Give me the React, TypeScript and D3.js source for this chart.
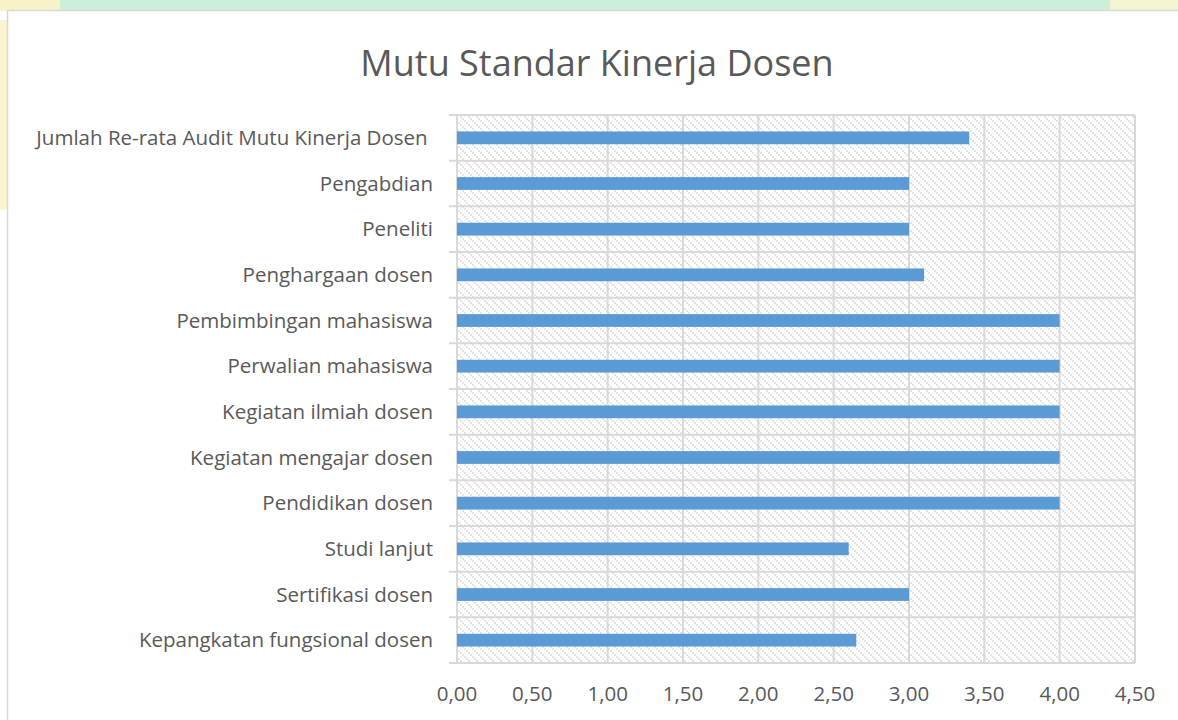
import * as React from "react";
import * as d3 from "d3";

// categories from bottom to top, as in the source chart
const categories = [
	"Kepangkatan fungsional dosen",
	"Sertifikasi dosen",
	"Studi lanjut",
	"Pendidikan dosen",
	"Kegiatan mengajar dosen",
	"Kegiatan ilmiah dosen",
	"Perwalian mahasiswa",
	"Pembimbingan mahasiswa",
	"Penghargaan dosen",
	"Peneliti",
	"Pengabdian",
	"Jumlah Re-rata Audit Mutu Kinerja Dosen ",
];
const values = [2.65, 3.0, 2.6, 4.0, 4.0, 4.0, 4.0, 4.0, 3.1, 3.0, 3.0, 3.4];
const xTicks = [0, 0.5, 1, 1.5, 2, 2.5, 3, 3.5, 4, 4.5];

const width = 1178;
const height = 720;
const plot = { left: 457, right: 1135, top: 115, bottom: 663 };
const barColor = "#5b9bd5";
const gridColor = "#d9d9d9";
const textColor = "#595959";
const font = "'Open Sans', Calibri, sans-serif";

const fmt = (v: number) => v.toFixed(2).replace(".", ",");

function App() {
	const xScale = React.useMemo(
		() => d3.scaleLinear([0, 4.5], [plot.left, plot.right]),
		[]
	);
	const yScale = React.useMemo(
		() =>
			d3
				.scaleBand<string>()
				.domain([...categories].reverse())
				.range([plot.top, plot.bottom])
				.paddingInner(0.72)
				.paddingOuter(0.36),
		[]
	);
	const band = d3
		.scaleBand<string>()
		.domain([...categories].reverse())
		.range([plot.top, plot.bottom]);

	return (
		<svg
			width={width}
			height={height}
			style={{ position: "absolute", left: 0, top: 0 }}
			fontFamily={font}
		>
			<defs>
				<pattern
					id="hatch"
					width={8}
					height={8}
					patternUnits="userSpaceOnUse"
				>
					<rect width={8} height={8} fill="#ffffff" />
					{[0, 2, 4, 6].map((d) => (
						<rect key={d} x={d} y={d} width={2} height={2} fill="#e3e3e3" />
					))}
					{[0, 4].map((d) => (
						<rect
							key={"b" + d}
							x={(d + 4) % 8}
							y={d}
							width={1}
							height={1}
							fill="#ececec"
						/>
					))}
				</pattern>
			</defs>

			{/* page background behind the chart */}
			<rect width={width} height={height} fill="#ffffff" />
			<rect width={width} height={11} fill="#cdeedb" />
			<rect x={0} y={0} width={60} height={11} fill="#f7f3c8" />
			<rect x={1110} y={0} width={68} height={11} fill="#f5f4d0" />
			<rect x={0} y={20} width={7} height={190} fill="#f8f5cf" />

			{/* chart area */}
			<rect
				x={7.5}
				y={10.5}
				width={width}
				height={height}
				fill="#ffffff"
				stroke={gridColor}
				strokeWidth={1.5}
			/>

			<text
				x={597}
				y={76}
				textAnchor="middle"
				fontSize={36}
				fill={textColor}
			>
				Mutu Standar Kinerja Dosen
			</text>

			{/* plot area */}
			<rect
				x={plot.left}
				y={plot.top}
				width={plot.right - plot.left}
				height={plot.bottom - plot.top}
				fill="url(#hatch)"
			/>

			{/* vertical gridlines */}
			{xTicks.map((t) => (
				<line
					key={t}
					x1={xScale(t)}
					x2={xScale(t)}
					y1={plot.top}
					y2={plot.bottom}
					stroke={gridColor}
					strokeWidth={2}
				/>
			))}
			{/* horizontal gridlines at category boundaries */}
			{[...categories.map((c) => band(c)!), plot.bottom].map((y, i) => (
				<line
					key={i}
					x1={plot.left - 8}
					x2={plot.right}
					y1={y}
					y2={y}
					stroke={gridColor}
					strokeWidth={2}
				/>
			))}

			{categories.map((c, i) => (
				<rect
					key={c}
					x={xScale(0)}
					y={yScale(c)}
					width={xScale(values[i]) - xScale(0)}
					height={yScale.bandwidth()}
					fill={barColor}
				/>
			))}

			{/* category labels */}
			{categories.map((c) => (
				<text
					key={c}
					x={433}
					y={band(c)! + band.bandwidth() / 2}
					dy="0.35em"
					textAnchor="end"
					fontSize={20.5}
					fill={textColor}
					style={{ whiteSpace: "pre" }}
				>
					{c}
				</text>
			))}

			{/* x tick labels */}
			{xTicks.map((t) => (
				<text
					key={t}
					x={xScale(t)}
					y={701}
					textAnchor="middle"
					fontSize={20.5}
					fill={textColor}
				>
					{fmt(t)}
				</text>
			))}
		</svg>
	);
}

export default App;
